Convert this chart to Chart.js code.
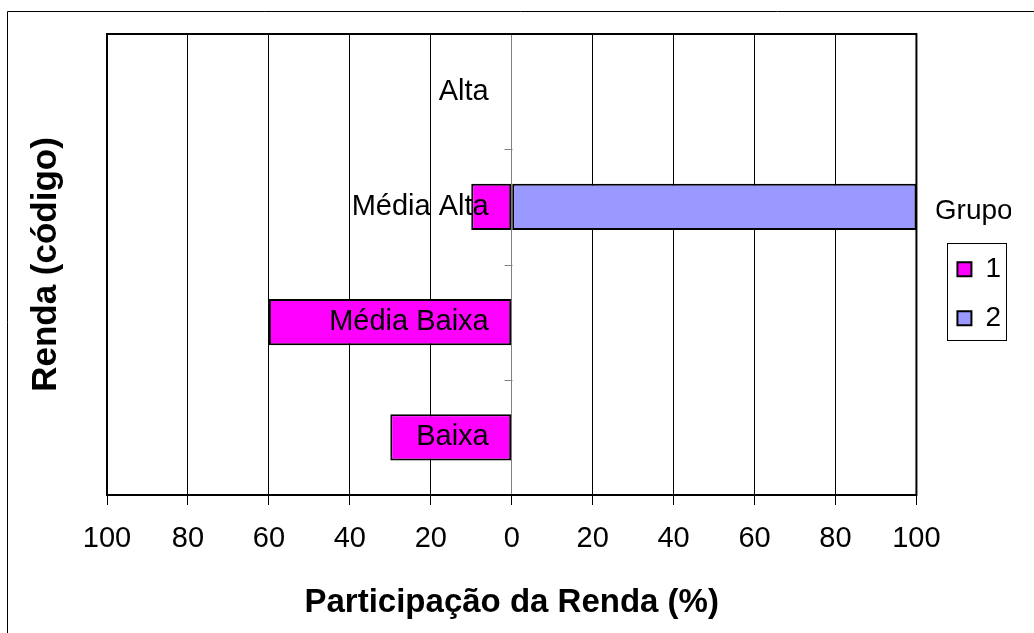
<!DOCTYPE html>
<html>
<head>
<meta charset="utf-8">
<script src="https://cdn.jsdelivr.net/npm/chart.js@4/dist/chart.umd.min.js"></script>
<style>
  html, body { margin: 0; padding: 0; background: #fff; }
  #wrap { position: relative; width: 1034px; height: 633px; }
</style>
</head>
<body>
<div id="wrap"><canvas id="c"></canvas></div>
<script>
// ---- data ----
const categories = ['Alta', 'Média Alta', 'Média Baixa', 'Baixa'];
const grupo1 = [0, -10, -60, -30];
const grupo2 = [0, 100, 0, 0];
const seriesNames = ['1', '2'];
const xTickValues = [-100, -80, -60, -40, -20, 0, 20, 40, 60, 80, 100];
const xTitle = 'Participação da Renda (%)';
const yTitle = 'Renda (código)';
const legendTitle = 'Grupo';

Chart.defaults.font.family = "'Liberation Sans', Arial, sans-serif";
Chart.defaults.color = '#000';

const decor = {
  id: 'decor',
  beforeDraw(chart) {
    const ctx = chart.ctx;
    ctx.save();
    ctx.fillStyle = '#fff';
    ctx.fillRect(0, 0, chart.width, chart.height);
    ctx.strokeStyle = '#000';
    ctx.lineWidth = 1;
    ctx.beginPath();
    ctx.moveTo(7.5, chart.height);
    ctx.lineTo(7.5, 11.5);
    ctx.lineTo(chart.width, 11.5);
    ctx.stroke();
    ctx.restore();
  },
  afterUpdate(chart) {
    const lg = chart.legend;
    if (!lg) return;
    const ca = chart.chartArea;
    const dx = 20;
    const dy = ((ca.top + ca.bottom) - (lg.top + lg.bottom)) / 2;
    lg.left += dx; lg.right += dx;
    lg.top += dy; lg.bottom += dy;
    lg.legendHitBoxes.forEach(h => { h.left += dx; h.top += dy; });
  },
  beforeDatasetsDraw(chart) {
    const {ctx, chartArea: a, scales: {x, y}} = chart;
    ctx.save();
    // plot border
    ctx.strokeStyle = '#000';
    ctx.lineWidth = 2;
    ctx.strokeRect(a.left, a.top, a.right - a.left, a.bottom - a.top);
    // category boundary ticks on the zero axis
    const x0 = Math.round(x.getPixelForValue(0)) + 0.5;
    ctx.strokeStyle = '#808080';
    ctx.lineWidth = 1;
    ctx.beginPath();
    for (let i = 0; i < categories.length - 1; i++) {
      const yb = Math.round((y.getPixelForValue(i) + y.getPixelForValue(i + 1)) / 2) + 0.5;
      ctx.moveTo(x0 - 8, yb);
      ctx.lineTo(x0, yb);
    }
    ctx.stroke();
    ctx.restore();
  },
  afterDatasetsDraw(chart) {
    const {ctx, scales: {x, y}} = chart;
    ctx.save();
    ctx.font = "29px 'Liberation Sans', Arial, sans-serif";
    ctx.fillStyle = '#000';
    ctx.textAlign = 'right';
    ctx.textBaseline = 'middle';
    const xl = x.getPixelForValue(0) - 23;
    chart.data.labels.forEach((lab, i) => {
      ctx.fillText(lab, xl, y.getPixelForValue(i));
    });
    ctx.restore();
  },
  afterDraw(chart) {
    const lg = chart.legend;
    if (!lg || !lg.legendHitBoxes.length) return;
    const hb = lg.legendHitBoxes;
    let l = Infinity, r = -Infinity;
    hb.forEach(h => { l = Math.min(l, h.left); r = Math.max(r, h.left + h.width); });
    const t = hb[0].top - 12;
    const b = hb[hb.length - 1].top + hb[hb.length - 1].height + 8;
    const ctx = chart.ctx;
    ctx.save();
    ctx.strokeStyle = '#000';
    ctx.lineWidth = 1;
    ctx.strokeRect(Math.round(l - 10) + 0.5, Math.round(t) + 0.5, Math.round(r + 5 - (l - 10)), Math.round(b - t));
    ctx.restore();
  }
};

new Chart(document.getElementById('c'), {
  type: 'bar',
  data: {
    labels: categories,
    datasets: [
      { label: seriesNames[0], data: grupo1, backgroundColor: '#FF00FF', borderColor: '#000', borderWidth: 2, borderSkipped: false, barPercentage: 0.4, categoryPercentage: 1.0 },
      { label: seriesNames[1], data: grupo2, backgroundColor: '#9999FF', borderColor: '#000', borderWidth: 2, borderSkipped: false, barPercentage: 0.4, categoryPercentage: 1.0 }
    ]
  },
  options: {
    indexAxis: 'y',
    responsive: true,
    maintainAspectRatio: false,
    animation: false,
    layout: { padding: { top: 34, right: 43, bottom: 0, left: 0 } },
    scales: {
      x: {
        stacked: true,
        min: -100, max: 100,
        afterBuildTicks(s) { s.ticks = xTickValues.map(v => ({ value: v })); },
        afterFit(s) { s.height = 138; },
        ticks: {
          font: { size: 29 },
          color: '#000',
          padding: 17,
          maxRotation: 0,
          callback: v => String(Math.abs(v))
        },
        grid: {
          color: ctx => (ctx.tick && ctx.tick.value === 0) ? '#808080' : '#000',
          lineWidth: 1,
          tickLength: 10,
          tickColor: '#000'
        },
        border: { display: false },
        title: {
          display: true,
          text: xTitle,
          font: { size: 33, weight: 'bold' },
          color: '#000',
          padding: { top: 0, bottom: 10 }
        }
      },
      y: {
        stacked: true,
        afterFit(s) { s.width = 107; },
        ticks: { display: false },
        grid: { display: false, drawTicks: false },
        border: { display: false },
        title: {
          display: true,
          text: yTitle,
          font: { size: 35, weight: 'bold' },
          color: '#000',
          padding: { top: 25, bottom: 0 }
        }
      }
    },
    plugins: {
      tooltip: { enabled: false },
      legend: {
        position: 'right',
        align: 'center',
        title: {
          display: true,
          text: legendTitle,
          font: { size: 28 },
          color: '#000',
          padding: { top: 22, bottom: 3 }
        },
        labels: {
          font: { size: 28 },
          color: '#000',
          boxWidth: 14,
          boxHeight: 14,
          padding: 21
        }
      }
    }
  },
  plugins: [decor]
});
</script>
</body>
</html>
